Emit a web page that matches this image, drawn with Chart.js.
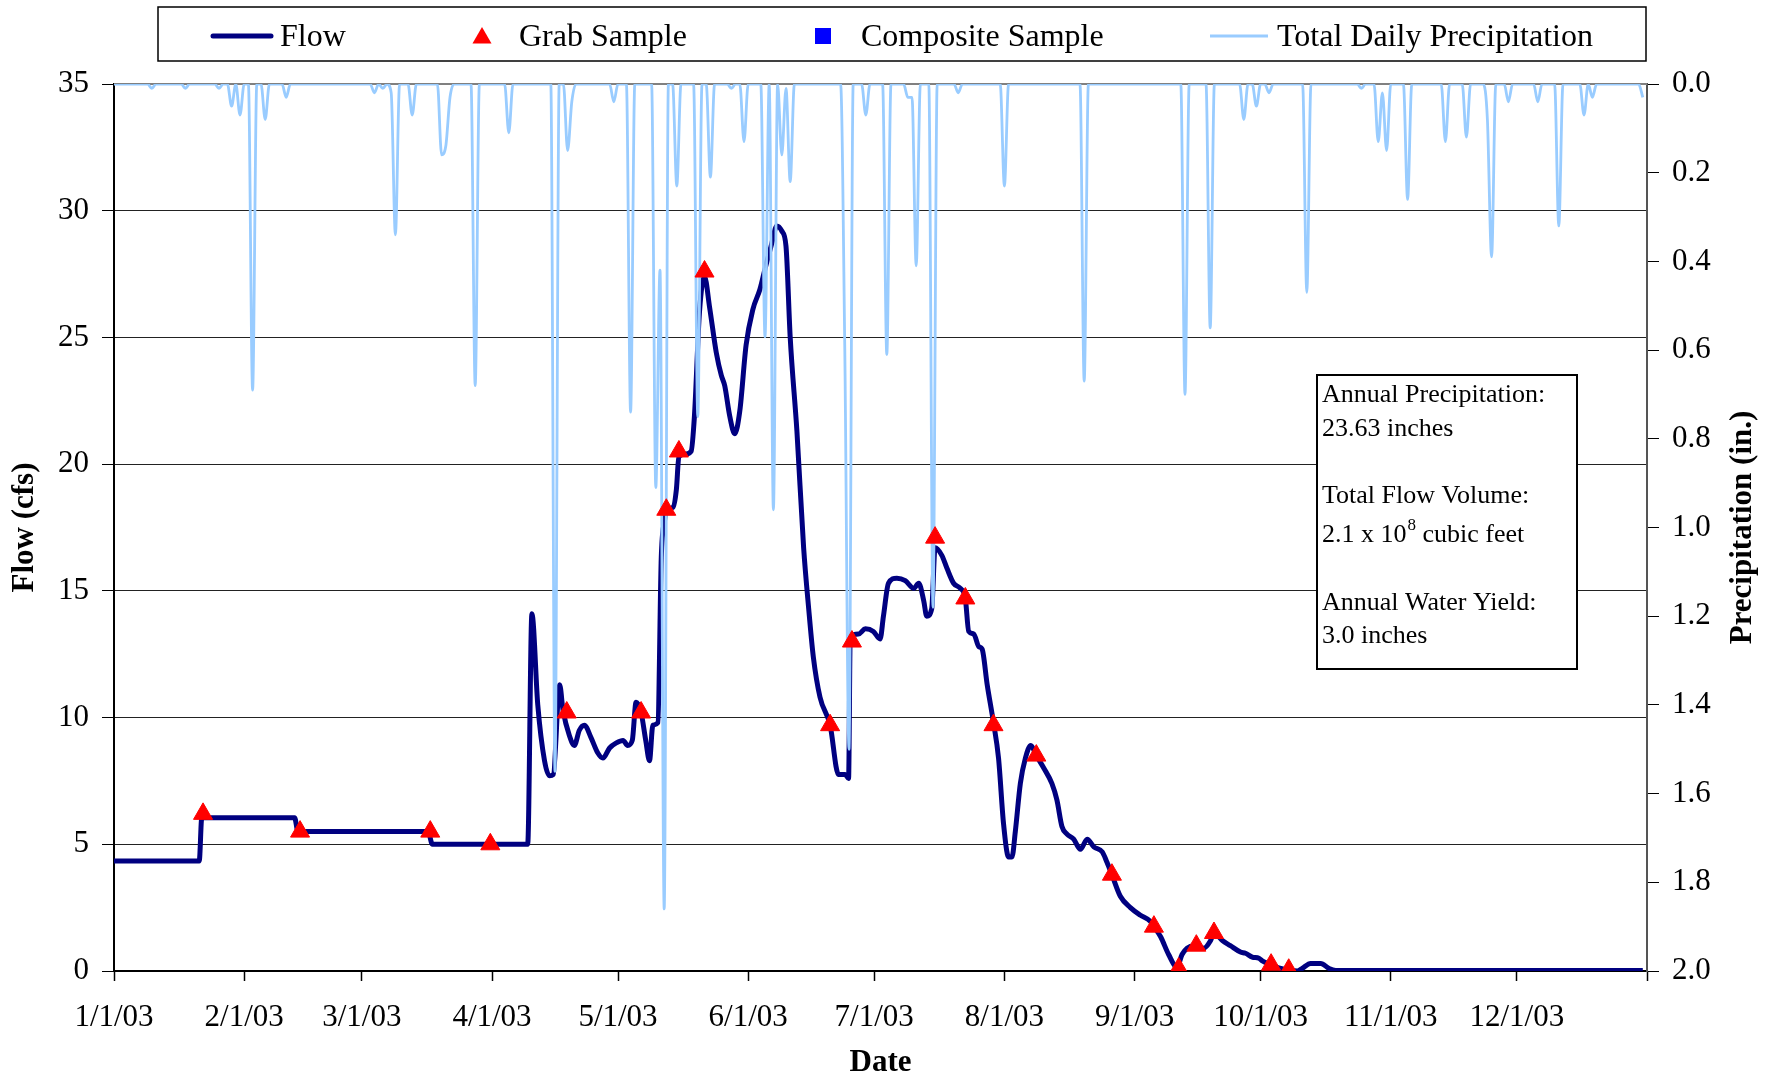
<!DOCTYPE html>
<html>
<head>
<meta charset="utf-8">
<title>Flow, Samples and Daily Precipitation 2003</title>
<script src="https://cdn.jsdelivr.net/npm/chart.js"></script>
<style>
    html, body { margin: 0; padding: 0; background: #fff; }
    canvas { display: block; }
</style>
</head>
<body>
<canvas id="flowChart" width="1778" height="1078"></canvas>
<script>
// ═══════════════════════════════════════════════
// 1. DATA (read off the 2003 hydrograph)
// ═══════════════════════════════════════════════

// ── Date axis: day-of-year of each month start ──
const MONTH_STARTS = [0, 31, 59, 90, 120, 151, 181, 212, 243, 273, 304, 334, 365];
const MONTH_LABELS = ["1/1/03", "2/1/03", "3/1/03", "4/1/03", "5/1/03", "6/1/03",
                      "7/1/03", "8/1/03", "9/1/03", "10/1/03", "11/1/03", "12/1/03"];

// ── Flow (cfs): day of year / value ──
const flowDays = [
    0, 20.3, 20.9, 43.0, 43.8, 74.8, 75.8, 98.5, 99.5, 100.9,
    102.5, 103.7, 104.6, 106.1, 106.9, 108.4, 109.6, 110.8, 112.0, 113.6,
    115.2, 116.4, 118.0, 119.6, 121.2, 122.3, 123.4, 124.3, 125.5, 126.6,
    127.5, 128.3, 129.5, 130.3, 131.1, 131.5, 133.1, 133.9, 134.5, 136.2,
    137.4, 138.2, 139.4, 140.6, 141.8, 143.4, 144.6, 145.4, 146.6, 147.8,
    149.0, 150.5, 152.1, 153.8, 155.0, 156.6, 157.8, 159.0, 160.0, 161.0,
    162.6, 164.2, 165.4, 166.5, 168.1, 170.5, 172.5, 174.1, 174.9, 175.3,
    177.3, 178.9, 180.8, 182.4, 183.2, 184.4, 186.4, 188.4, 190.4, 191.6,
    192.8, 193.5, 194.7, 195.5, 197.1, 198.3, 199.9, 201.5, 202.7, 203.5,
    204.7, 205.9, 206.7, 207.9, 209.4, 210.6, 211.8, 213.0, 213.8, 214.6,
    215.8, 217.0, 218.3, 219.6, 221.4, 223.3, 224.5, 225.7, 226.9, 228.5,
    230.1, 231.7, 233.3, 235.3, 236.4, 237.6, 239.6, 242.0, 244.4, 246.8,
    247.6, 249.2, 251.1, 253.1, 254.3, 255.5, 257.1, 259.5, 261.1, 261.9,
    263.9, 265.8, 268.2, 269.4, 271.0, 272.6, 273.4, 275.5, 277.8, 279.7,
    281.7, 282.9, 284.9, 287.3, 289.3, 290.9, 364
];
const flowValues = [
    4.34, 4.34, 6.05, 6.05, 5.5, 5.5, 5.0, 5.0, 14.1, 10.5,
    8.3, 7.7, 7.75, 11.3, 10.3, 9.3, 8.9, 9.5, 9.7, 9.2,
    8.6, 8.4, 8.8, 9.0, 9.1, 8.9, 9.1, 10.6, 10.2, 9.1,
    8.3, 9.7, 9.8, 16.3, 17.8, 18.2, 18.3, 19.0, 20.3, 20.4,
    20.5, 21.9, 26.0, 27.4, 26.2, 24.4, 23.5, 23.1, 21.9, 21.2,
    22.1, 24.7, 26.1, 26.9, 27.7, 28.7, 29.4, 29.2, 28.6, 25.0,
    21.3, 16.7, 14.3, 12.4, 10.8, 9.7, 7.75, 7.75, 7.6, 13.2,
    13.3, 13.5, 13.4, 13.1, 14.0, 15.3, 15.5, 15.4, 15.1, 15.3,
    14.6, 14.0, 14.3, 16.7, 16.4, 15.9, 15.3, 15.1, 14.7, 13.4,
    13.3, 12.8, 12.7, 11.3, 9.8, 8.4, 5.8, 4.5, 4.5, 5.5,
    7.4, 8.4, 8.9, 8.5, 8.0, 7.4, 6.75, 5.7, 5.4, 5.2,
    4.8, 5.2, 4.9, 4.7, 4.3, 3.8, 2.95, 2.5, 2.2, 1.95,
    1.75, 1.35, 0.65, 0.15, 0.65, 0.9, 1.0, 0.9, 1.2, 1.5,
    1.2, 1.0, 0.75, 0.7, 0.55, 0.5, 0.4, 0.25, 0.1, 0.05,
    0.0, 0.1, 0.3, 0.3, 0.1, 0.02, 0.02
];

// ── Grab samples ──
const grabDays   = [21.2, 44.3, 75.3, 89.6, 107.8, 125.5, 131.5, 134.5, 140.6, 170.5, 175.7,
                    195.5, 202.7, 209.4, 219.6, 237.6, 247.6, 253.5, 257.7, 261.9, 275.5, 279.7];
const grabValues = [6.2, 5.5, 5.5, 5.0, 10.2, 10.2, 18.2, 20.5, 27.6, 9.7, 13.0,
                    17.1, 14.7, 9.7, 8.5, 3.8, 1.75, 0.1, 1.0, 1.5, 0.25, 0.05];

// ── Composite samples (none shown for this year) ──
const compositeDays   = [];
const compositeValues = [];

// ── Total daily precipitation (in.): rain days only, every other day is 0 ──
const rainDays = [
    9, 17, 25, 28, 30, 33, 36, 41, 62, 64, 66, 67, 71, 78, 79, 80, 86, 94,
    105, 108, 109, 119, 123, 129, 130, 131, 134, 139, 142, 147, 150, 155, 157, 159, 160, 161,
    174, 175, 179, 184, 189, 190, 191, 195, 201, 212, 231, 255, 261, 269, 272, 275,
    284, 297, 301, 302, 303, 308, 317, 322, 327, 328, 332, 339, 344, 350, 352, 364
];
const rainInches = [
    0.01, 0.01, 0.01, 0.05, 0.07, 0.69, 0.08, 0.03, 0.02, 0.01, 0.02, 0.34, 0.07, 0.16, 0.14, 0.03, 0.68, 0.11,
    1.55, 0.15, 0.04, 0.04, 0.74, 0.91, 0.42, 1.86, 0.23, 0.75, 0.21, 0.01, 0.13, 0.57, 0.96, 0.16, 0.01, 0.22,
    0.6, 1.5, 0.07, 0.61, 0.03, 0.03, 0.41, 1.18, 0.02, 0.23, 0.67, 0.70, 0.55, 0.08, 0.05, 0.02,
    0.47, 0.01, 0.13, 0.02, 0.15, 0.26, 0.13, 0.12, 0.08, 0.39, 0.04, 0.04, 0.32, 0.07, 0.03, 0.03
];

// ── Summary box text ──
const SUMMARY_LINES = [
    ["Annual Precipitation:"],
    ["23.63 inches"],
    ["Total Flow Volume:"],
    ["2.1 x 10", "8", " cubic feet"],
    ["Annual Water Yield:"],
    ["3.0 inches"],
];


// ═══════════════════════════════════════════════
// 2. STYLE
// ═══════════════════════════════════════════════

const SERIF = '"Liberation Serif", "Times New Roman", serif';
const COLORS = {
    flow:      "#000080",
    grab:      "#ff0000",
    composite: "#0000ff",
    precip:    "#99ccff",
    grid:      "#222222",
};


// ═══════════════════════════════════════════════
// 3. BUILD POINTS
// ═══════════════════════════════════════════════

const flowPoints = flowDays.map((d, i) => ({ x: d, y: flowValues[i] }));
const grabPoints = grabDays.map((d, i) => ({ x: d, y: grabValues[i] }));
const compositePoints = compositeDays.map((d, i) => ({ x: d, y: compositeValues[i] }));

const dailyPrecip = new Array(365).fill(0);
rainDays.forEach((d, i) => { dailyPrecip[d] = rainInches[i]; });
const precipPoints = dailyPrecip.map((v, d) => ({ x: d, y: v }));


// ═══════════════════════════════════════════════
// 4. DRAWING HELPERS (legend, summary box, right title)
// ═══════════════════════════════════════════════

function drawTriangle(ctx, x, y, r, color) {
    ctx.fillStyle = color;
    ctx.beginPath();
    ctx.moveTo(x, y - r);
    ctx.lineTo(x + r * 0.866, y + r * 0.5);
    ctx.lineTo(x - r * 0.866, y + r * 0.5);
    ctx.closePath();
    ctx.fill();
}

function drawLegend(chart) {
    const ctx = chart.ctx;
    const ds = chart.data.datasets;
    const y = 36;
    ctx.save();
    ctx.fillStyle = "#fff";
    ctx.fillRect(158, 7, 1488, 54);
    ctx.strokeStyle = "#000";
    ctx.lineWidth = 1.5;
    ctx.strokeRect(158, 7, 1488, 54);

    ctx.font = `32px ${SERIF}`;
    ctx.textBaseline = "middle";

    // Flow
    ctx.strokeStyle = COLORS.flow;
    ctx.lineWidth = 5;
    ctx.lineCap = "round";
    ctx.beginPath(); ctx.moveTo(213, y); ctx.lineTo(271, y); ctx.stroke();
    ctx.fillStyle = "#000";
    ctx.fillText(ds[0].label, 280, y + 2);

    // Grab Sample
    drawTriangle(ctx, 482, y + 2, 11, COLORS.grab);
    ctx.fillStyle = "#000";
    ctx.fillText(ds[1].label, 519, y + 2);

    // Composite Sample
    ctx.fillStyle = COLORS.composite;
    ctx.fillRect(815, y - 8, 16, 16);
    ctx.fillStyle = "#000";
    ctx.fillText(ds[2].label, 861, y + 2);

    // Total Daily Precipitation
    ctx.strokeStyle = COLORS.precip;
    ctx.lineWidth = 2.8;
    ctx.lineCap = "butt";
    ctx.beginPath(); ctx.moveTo(1210, y); ctx.lineTo(1268, y); ctx.stroke();
    ctx.fillStyle = "#000";
    ctx.fillText(ds[3].label, 1277, y + 2);
    ctx.restore();
}

function drawSummary(chart) {
    const ctx = chart.ctx;
    const lineY = [395, 429, 496, 535, 603, 636];
    ctx.save();
    ctx.fillStyle = "#fff";
    ctx.fillRect(1317, 375, 260, 294);
    ctx.strokeStyle = "#000";
    ctx.lineWidth = 2;
    ctx.strokeRect(1317, 375, 260, 294);

    ctx.fillStyle = "#000";
    ctx.textBaseline = "middle";
    SUMMARY_LINES.forEach((parts, i) => {
        let x = 1322;
        ctx.font = `26px ${SERIF}`;
        ctx.fillText(parts[0], x, lineY[i]);
        x += ctx.measureText(parts[0]).width;
        if (parts.length > 1) {
            // superscript exponent
            ctx.font = `17px ${SERIF}`;
            ctx.fillText(parts[1], x + 1, lineY[i] - 9);
            x += ctx.measureText(parts[1]).width + 1;
            ctx.font = `26px ${SERIF}`;
            ctx.fillText(parts[2], x, lineY[i]);
        }
    });
    ctx.restore();
}

function drawRightTitle(chart) {
    const { ctx, chartArea } = chart;
    ctx.save();
    ctx.translate(1743, (chartArea.top + chartArea.bottom) / 2);
    ctx.rotate(-Math.PI / 2);
    ctx.font = `bold 31px ${SERIF}`;
    ctx.fillStyle = "#000";
    ctx.textAlign = "center";
    ctx.textBaseline = "middle";
    ctx.fillText("Precipitation (in.)", 0, 0);
    ctx.restore();
}

const chartDecor = {
    id: "chartDecor",
    beforeDatasetsDraw(chart) {
        // grey plot-area top edge
        const { ctx, chartArea: a } = chart;
        ctx.save();
        ctx.strokeStyle = "#808080";
        ctx.lineWidth = 2;
        ctx.beginPath(); ctx.moveTo(a.left, a.top); ctx.lineTo(a.right, a.top); ctx.stroke();
        ctx.restore();
    },
    afterDraw(chart) {
        drawLegend(chart);
        drawSummary(chart);
        drawRightTitle(chart);
    },
};


// ═══════════════════════════════════════════════
// 5. CHART
// ═══════════════════════════════════════════════

const tickFont = { family: SERIF, size: 31 };
const titleFont = { family: SERIF, size: 31, weight: "bold" };

new Chart(document.getElementById("flowChart"), {
    type: "line",
    data: {
        datasets: [
            {
                label: "Flow",
                data: flowPoints,
                yAxisID: "y",
                borderColor: COLORS.flow,
                borderWidth: 5,
                pointRadius: 0,
                cubicInterpolationMode: "monotone",
                order: 2,
            },
            {
                label: "Grab Sample",
                data: grabPoints,
                yAxisID: "y",
                showLine: false,
                pointStyle: "triangle",
                pointRadius: 11,
                backgroundColor: COLORS.grab,
                borderColor: COLORS.grab,
                borderWidth: 1,
                order: 0,
            },
            {
                label: "Composite Sample",
                data: compositePoints,
                yAxisID: "y",
                showLine: false,
                pointStyle: "rect",
                pointRadius: 8,
                backgroundColor: COLORS.composite,
                borderColor: COLORS.composite,
                order: 0,
            },
            {
                label: "Total Daily Precipitation",
                data: precipPoints,
                yAxisID: "y2",
                borderColor: COLORS.precip,
                borderWidth: 2.8,
                pointRadius: 0,
                cubicInterpolationMode: "monotone",
                order: 1,
            },
        ],
    },
    options: {
        responsive: false,
        animation: false,
        layout: { padding: { top: 84, right: 0, bottom: 0, left: 0 } },
        plugins: {
            legend: { display: false },
            tooltip: { enabled: false },
        },
        scales: {
            x: {
                type: "linear",
                min: 0,
                max: 365,
                afterBuildTicks: (axis) => { axis.ticks = MONTH_STARTS.map(v => ({ value: v })); },
                afterFit: (axis) => { axis.height = 107; },
                ticks: {
                    autoSkip: false,
                    maxRotation: 0,
                    padding: 18,
                    color: "#000",
                    font: tickFont,
                    callback: (v) => MONTH_LABELS[MONTH_STARTS.indexOf(v)] || "",
                },
                grid: {
                    drawOnChartArea: false,
                    tickLength: 10,
                    tickColor: "#000",
                    tickWidth: 1.5,
                },
                border: { color: "#000", width: 2 },
                title: {
                    display: true,
                    text: "Date",
                    color: "#000",
                    font: titleFont,
                    padding: { top: 0, bottom: -4 },
                },
            },
            y: {
                position: "left",
                min: 0,
                max: 35,
                afterFit: (axis) => { axis.width = 114; },
                ticks: {
                    stepSize: 5,
                    padding: 13,
                    color: "#000",
                    font: tickFont,
                },
                grid: {
                    color: (c) => (c.tick && c.tick.value === 35 ? "#808080" : COLORS.grid),
                    lineWidth: 1,
                    tickLength: 12,
                    tickColor: "#000",
                },
                border: { color: "#000", width: 2 },
                title: {
                    display: true,
                    text: "Flow (cfs)",
                    color: "#000",
                    font: titleFont,
                    padding: { top: 6, bottom: 0 },
                },
            },
            y2: {
                position: "right",
                reverse: true,
                min: 0,
                max: 2,
                afterFit: (axis) => { axis.width = 131; },
                ticks: {
                    stepSize: 0.2,
                    padding: 13,
                    color: "#000",
                    font: tickFont,
                    callback: (v) => v.toFixed(1),
                },
                grid: {
                    drawOnChartArea: false,
                    tickLength: 12,
                    tickColor: "#000",
                },
                border: { color: "#555", width: 2 },
            },
        },
    },
    plugins: [chartDecor],
});
</script>
</body>
</html>
